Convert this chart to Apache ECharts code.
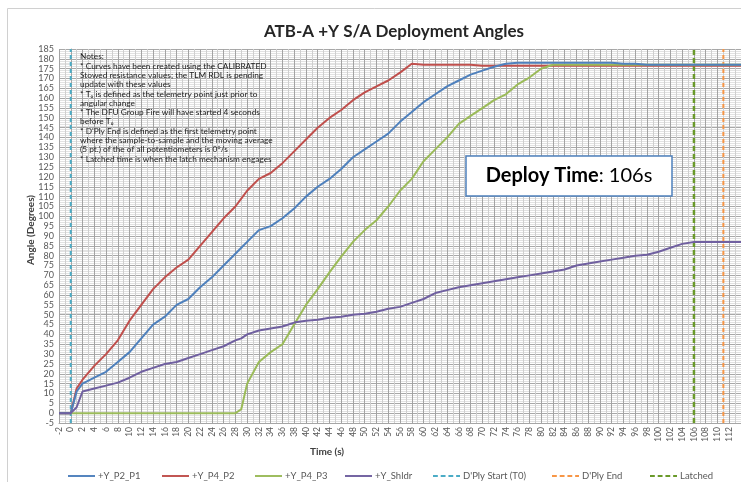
<!DOCTYPE html>
<html>
<head>
<meta charset="utf-8">
<script src="https://cdn.jsdelivr.net/npm/echarts@6/dist/echarts.min.js"></script>
<style>html,body{margin:0;padding:0;background:#fff}#c{width:741px;height:482px}</style>
</head>
<body>
<div id="c"></div>
<script>
// ---- data ----
var timeS = [-2,0,1,2,4,6,8,10,12,14,16,18,20,22,24,26,28,29,30,32,34,36,38,40,42,44,46,48,50,52,54,56,58,60,62,64,66,68,70,72,74,76,78,80,82,84,86,88,90,92,94,96,98,100,102,104,106,108,110,112,114];
var yP2P1 = [0,0,11,15,18,21,26,31,38,45,49,55,58,64,69,75,81,84,87,93,95,99,104,110,115,119,124,130,134,138,142,148,153,158,162,166,169,172,174,176,177.5,178,178,178,178,178,178,178,178,178,177.5,177.5,177,177,177,177,177,177,177,177,177];
var yP4P2 = [0,0,12.5,17,24,30,37,47,55,63,69,74,78,85,92,99,105,109,113,119,122,127,133,139,145,150,154,159,163,166,169,173,177.5,177,177,177,177,177,176.5,176.5,176.5,176.5,176.5,176.5,176.5,176.5,176.5,176.5,176.5,176.5,176.5,176.5,176.5,176.5,176.5,176.5,176.5,176.5,176.5,176.5,176.5];
var yP4P3 = [0,0,0,0,0,0,0,0,0,0,0,0,0,0,0,0,0,2,15,26,31,35,45,55,63,71.5,79.5,87,93,98,105,113,119,128,134,140,147,151,155,159,162,167,170.5,175,177,177,177,177,177,177,177,177,177,177,177,177,177,177,177,177,177];
var yShldr = [0,0,3,11,12.5,14,15.5,18,21,23,25,26,28,30,32,34,37,38,40,42,43,44,46,47,47.5,48.5,49,50,50.5,51.5,53,54,56,58,61,62.5,64,65,66,67,68,69,70,71,72,73,75,76,77,78,79,80,80.5,82,84,86,87,87,87,87,87];
var tStart = 0, tEnd = 111, tLatched = 106;
var seriesNames = ['+Y_P2_P1','+Y_P4_P2','+Y_P4_P3','+Y_Shldr',"D'Ply Start (T0)","D'Ply End",'Latched'];
var xTicks = {min:-2, max:114, step:2};
var yTicks = {min:-5, max:185, step:5};

function pairs(t, v){ return t.map(function(x,i){ return [x, v[i]]; }); }
function vline(x){ return [[x, yTicks.min],[x, yTicks.max]]; }

var solidIcon = 'path://M0,0h28v2h-28z';
var dashIcon = 'path://M0,0h5v2h-5z M8,0h5v2h-5z M16,0h5v2h-5z M24,0h4v2h-4z';
var legendLeft = [63, 157, 250, 340, 428, 547, 645];

var chart = echarts.init(document.getElementById('c'));
var option = {
  animation:false,
  backgroundColor:'#fff',
  title:{text:'ATB-A +Y S/A Deployment Angles', left:389, textAlign:'center', top:18,
    textStyle:{fontFamily:'Lato', fontWeight:'bold', fontSize:17, color:'#262626'}},
  grid:{left:59, top:49, width:696, height:374, containLabel:false},
  xAxis:{type:'value', min:xTicks.min, max:xTicks.max, interval:xTicks.step,
    axisLine:{show:true, onZero:false, lineStyle:{color:'#a6a6a6'}},
    axisTick:{show:false},
    axisLabel:{rotate:90, margin:4, showMaxLabel:false, color:'#595959', fontSize:8.5, fontFamily:'Lato'},
    splitLine:{show:true, lineStyle:{color:'#a3a3a3', width:1}},
    minorTick:{show:false, splitNumber:2},
    minorSplitLine:{show:true, lineStyle:{color:'#cfcfcf', width:1}}
  },
  yAxis:{type:'value', min:yTicks.min, max:yTicks.max, interval:yTicks.step,
    axisLine:{show:true, lineStyle:{color:'#a6a6a6'}},
    axisTick:{show:false},
    axisLabel:{margin:5, color:'#595959', fontSize:9, fontFamily:'Lato'},
    splitLine:{show:true, lineStyle:{color:'#a8a8a8', width:1}},
    minorTick:{show:false, splitNumber:5},
    minorSplitLine:{show:true, lineStyle:{color:'#e2e2e2', width:1}}
  },
  legend: seriesNames.map(function(n,i){
    return {top:466, left:legendLeft[i], itemWidth:27, itemHeight:10, itemGap:0,
      textStyle:{color:'#595959', fontSize:9.5, fontFamily:'Lato', padding:[0,0,0,-2]},
      data:[{name:n, icon: i<4 ? solidIcon : dashIcon}]};
  }),
  series:[
    {name:seriesNames[0], type:'line', data:pairs(timeS,yP2P1), showSymbol:false, symbol:'none', lineStyle:{color:'#4F81BD', width:2}, itemStyle:{color:'#4F81BD'}, z:4},
    {name:seriesNames[1], type:'line', data:pairs(timeS,yP4P2), showSymbol:false, symbol:'none', lineStyle:{color:'#C0504D', width:2}, itemStyle:{color:'#C0504D'}, z:3},
    {name:seriesNames[2], type:'line', data:pairs(timeS,yP4P3), showSymbol:false, symbol:'none', lineStyle:{color:'#9BBB59', width:2}, itemStyle:{color:'#9BBB59'}, z:3},
    {name:seriesNames[3], type:'line', data:pairs(timeS,yShldr), showSymbol:false, symbol:'none', lineStyle:{color:'#7060A0', width:2}, itemStyle:{color:'#7060A0'}, z:5},
    {name:seriesNames[4], type:'line', data:vline(tStart), showSymbol:false, symbol:'none', lineStyle:{color:'#4BACC6', width:2, type:[4,3]}, itemStyle:{color:'#4BACC6'}, z:2},
    {name:seriesNames[5], type:'line', data:vline(tEnd), showSymbol:false, symbol:'none', lineStyle:{color:'#F79646', width:2, type:[4,3]}, itemStyle:{color:'#F79646'}, z:2},
    {name:seriesNames[6], type:'line', data:vline(tLatched), showSymbol:false, symbol:'none', lineStyle:{color:'#6A9A2A', width:2.5, type:[5,3]}, itemStyle:{color:'#6A9A2A'}, z:2}
  ],
  graphic:[
    {type:'rect', shape:{x:7.5, y:8.5, width:760, height:500}, style:{fill:null, stroke:'#d0d0d0', lineWidth:1}, z:-1, silent:true},
    {type:'text', x:31, y:230, rotation:Math.PI/2, z:10, style:{
      text:'Angle (Degrees)', align:'center', verticalAlign:'middle',
      font:'bold 10px Lato', fill:'#404040'}},
    {type:'text', x:327, y:452, z:10, style:{
      text:'Time (s)', align:'center', verticalAlign:'middle',
      font:'bold 10px Lato', fill:'#404040'}},
    {type:'text', left:80, top:52, z:10, style:{
      text:"Notes:\n* Curves have been created using the CALIBRATED\nStowed resistance values; the TLM RDL is pending\nupdate with these values\n* T\u2080 is defined as the telemetry point just prior to\nangular change\n* The DFU Group Fire will have started 4 seconds\nbefore T\u2080\n* D'Ply End is defined as the first telemetry point\nwhere the sample-to-sample and the moving average\n(5 pt.) of the of all potentiometers is 0\u00b0/s\n* Latched time is when the latch mechanism engages",
      font:'8.3px Lato', fill:'#1a1a1a', lineHeight:9.3}},
    {type:'rect', shape:{x:466, y:156, width:206, height:40}, style:{fill:'#ffffff', stroke:'#4F81BD', lineWidth:1.5}, z:10},
    {type:'text', x:569, y:176, z:11, style:{
      text:'{b|Deploy Time}{n|: 106s}', align:'center', verticalAlign:'middle',
      rich:{b:{fontFamily:'Lato', fontWeight:'bold', fontSize:20, fill:'#000'}, n:{fontFamily:'Lato', fontSize:20, fill:'#000'}}}}
  ]
};
chart.setOption(option);
</script>
</body>
</html>
